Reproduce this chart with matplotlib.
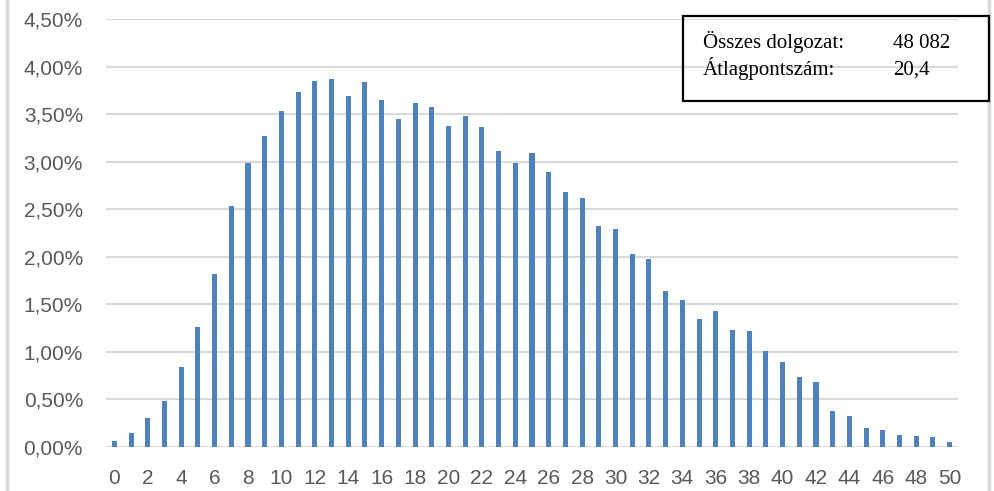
import numpy as np
import matplotlib
matplotlib.use('Agg')
import matplotlib.pyplot as plt
from matplotlib.ticker import FuncFormatter, MultipleLocator
from matplotlib.lines import Line2D
from matplotlib.patches import Rectangle

# data to plot (share of papers per score, %)
points = np.arange(0, 51)
share = [0.063, 0.144, 0.305, 0.488, 0.839, 1.264, 1.825, 2.531, 2.987, 3.268,
         3.531, 3.731, 3.847, 3.872, 3.692, 3.836, 3.654, 3.450, 3.622, 3.573,
         3.377, 3.485, 3.363, 3.113, 2.983, 3.096, 2.892, 2.682, 2.615, 2.324,
         2.296, 2.032, 1.976, 1.646, 1.548, 1.348, 1.432, 1.236, 1.218, 1.007,
         0.895, 0.734, 0.681, 0.376, 0.326, 0.204, 0.179, 0.123, 0.119, 0.102,
         0.056]
info_labels = ['Összes dolgozat:', 'Átlagpontszám:']
info_values = ['48 082', '20,4']

grey = '#595959'
grid_col = '#d9d9d9'

fig = plt.figure(figsize=(9.94, 4.91), dpi=100)
ax = fig.add_axes([106 / 994, 1 - 447 / 491, (958 - 106) / 994, (447 - 19.3) / 491])

ax.bar(points, np.array(share) / 100, width=0.3, color='#4f81bd', zorder=3)

ax.set_xlim(-0.5, 50.5)
ax.set_ylim(0, 0.045)
ax.yaxis.set_major_locator(MultipleLocator(0.005))
ax.yaxis.set_major_formatter(FuncFormatter(lambda v, p: ('%.2f%%' % (v * 100)).replace('.', ',')))
ax.set_xticks(points[::2])

for s in ax.spines.values():
    s.set_visible(False)
ax.grid(axis='y', color=grid_col, linewidth=1.5, zorder=0)
ax.tick_params(length=0, labelsize=15, labelcolor=grey)
ax.tick_params(axis='x', pad=16)
ax.tick_params(axis='y', pad=16.5)
for lab in ax.get_xticklabels() + ax.get_yticklabels():
    lab.set_family('Liberation Sans')

# outer chart border (left/right only visible)
fig.add_artist(Line2D([7 / 994, 7 / 994], [0, 1], color=grid_col, linewidth=2.5))
fig.add_artist(Line2D([989 / 994, 989 / 994], [0, 1], color=grid_col, linewidth=2.5))

# info box
fig.add_artist(Rectangle((683 / 994, 1 - 101 / 491), (989 - 683) / 994, (101 - 16) / 491,
                         fill=False, edgecolor='black', linewidth=1.6, zorder=5))
for i in range(len(info_labels)):
    y = 1 - (48 + i * 27) / 491
    fig.text(703 / 994, y, info_labels[i], family='Liberation Serif', fontsize=15,
             va='baseline', color='black')
    fig.text(893 / 994, y, info_values[i], family='Liberation Serif', fontsize=15,
             va='baseline', color='black')

plt.savefig('out.png', dpi=100)
